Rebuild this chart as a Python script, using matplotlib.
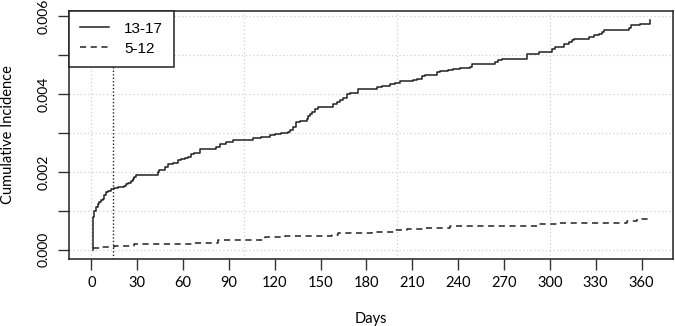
import matplotlib
matplotlib.use("Agg")
import matplotlib.pyplot as plt
from matplotlib.lines import Line2D

# ---- data (step points: day, cumulative incidence) ----
days_13_17 = [0.85, 1.5, 2.0, 3.1, 4.1, 5.2, 6.4, 7.4, 8.5, 9.6, 10.7, 12.9, 15.1,
              17.2, 21.6, 22.8, 23.8, 26.0, 27.1, 28.2, 29.3, 43.5, 44.6, 46.8,
              47.9, 50.0, 53.3, 56.6, 58.8, 61.0, 63.1, 65.4, 67.5, 70.8, 81.8,
              83.9, 86.1, 88.3, 90.5, 92.7, 105.8, 111.3, 113.4, 116.7, 120.0,
              124.4, 128.7, 129.8, 132.0, 134.2, 136.4, 138.6, 140.8, 141.8,
              142.9, 144.1, 146.2, 148.4, 158.2, 160.5, 162.6, 164.8, 167.0,
              169.2, 174.6, 186.7, 190.0, 192.1, 195.4, 198.7, 202.0, 210.7,
              212.9, 216.2, 218.4, 226.0, 228.2, 233.6, 236.9, 241.3, 247.9,
              249.0, 264.3, 266.4, 268.6, 285.0, 292.7, 301.4, 303.6, 309.0,
              312.3, 314.5, 315.6, 325.4, 328.7, 332.0, 334.2, 335.3, 348.4,
              351.7, 352.8, 359.3, 365.4]
inc_13_17 = [0.00084, 0.00088, 0.00101, 0.00110, 0.00118, 0.00122, 0.00127,
             0.00131, 0.00140, 0.00148, 0.00152, 0.00155, 0.00158, 0.00161,
             0.00165, 0.00170, 0.00172, 0.00178, 0.00183, 0.00188, 0.00191,
             0.00199, 0.00204, 0.00206, 0.00212, 0.00221, 0.00224, 0.00230,
             0.00234, 0.00236, 0.00238, 0.00247, 0.00249, 0.00259, 0.00264,
             0.00271, 0.00272, 0.00277, 0.00278, 0.00283, 0.00288, 0.00289,
             0.00291, 0.00296, 0.00298, 0.00301, 0.00302, 0.00307, 0.00315,
             0.00328, 0.00331, 0.00332, 0.00337, 0.00343, 0.00348, 0.00354,
             0.00362, 0.00367, 0.00374, 0.00379, 0.00386, 0.00391, 0.00401,
             0.00404, 0.00412, 0.00418, 0.00421, 0.00422, 0.00427, 0.00429,
             0.00435, 0.00437, 0.00440, 0.00446, 0.00450, 0.00457, 0.00459,
             0.00463, 0.00465, 0.00468, 0.00471, 0.00478, 0.00482, 0.00487,
             0.00491, 0.00504, 0.00508, 0.00517, 0.00521, 0.00530, 0.00534,
             0.00538, 0.00542, 0.00548, 0.00551, 0.00555, 0.00559, 0.00564,
             0.00566, 0.00571, 0.00577, 0.00581, 0.00590]

days_5_12 = [0.85, 6.4, 15.1, 28.2, 67.5, 82.8, 100.3, 113.4, 126.6, 157.2,
             161.5, 183.4, 198.7, 206.4, 217.2, 234.8, 291.6, 304.7, 350.6,
             357.1, 365.9]
inc_5_12 = [0.00004, 0.00007, 0.00010, 0.00014, 0.00017, 0.00024, 0.00026,
            0.00032, 0.00036, 0.00039, 0.00043, 0.00047, 0.00050, 0.00054,
            0.00057, 0.00061, 0.00067, 0.00069, 0.00073, 0.00078, 0.00078]

cutoff_day = 14
x_ticks = list(range(0, 361, 30))
y_ticks = [0.000, 0.001, 0.002, 0.003, 0.004, 0.005, 0.006]
y_labels = ["0.000", "", "0.002", "", "0.004", "", "0.006"]
group_labels = ["13-17", "5-12"]

INK = "#222222"
GRID = "#d0d0d0"

fig = plt.figure(figsize=(6.75, 3.26), dpi=100)
ax = fig.add_axes([69 / 675, 1 - 259 / 326, 604 / 675, 248 / 326])

# grid (R style, light dotted)
for gx in [0, 100, 200, 300]:
    ax.axvline(gx, color=GRID, lw=0.9, ls=(0, (1, 2)), zorder=0)
for gy in y_ticks:
    ax.axhline(gy, color=GRID, lw=0.9, ls=(0, (1, 2)), zorder=0)

# curves start from zero at day of first event
ax.step([0.85] + days_13_17, [0.0] + inc_13_17, where="post", color=INK,
        lw=1.1, zorder=3)
ax.step(days_5_12, inc_5_12, where="post", color=INK, lw=1.1,
        dashes=(4, 3), zorder=3)
ax.axvline(cutoff_day, color=INK, lw=1.0, ls=(0, (1, 1.5)), zorder=2)

ax.set_xlim(-14.6, 380.6)
ax.set_ylim(-0.000236, 0.006136)

ax.set_xticks(x_ticks)
ax.set_xticklabels([str(t) for t in x_ticks], fontfamily="Lato", fontsize=10.5)
ax.set_yticks(y_ticks)
ax.set_yticklabels(y_labels, fontfamily="Lato", fontsize=10,
                   rotation=90, va="center")
ax.tick_params(direction="out", length=8, width=1, color="#333333", pad=4)
ax.tick_params(axis="y", pad=6)

for s in ax.spines.values():
    s.set_linewidth(1.1)
    s.set_color(INK)

ax.set_xlabel("Days", fontfamily="Lato", fontsize=10.5, labelpad=16)
ax.set_ylabel("Cumulative Incidence", fontfamily="Lato", fontsize=10.5)
ax.yaxis.set_label_coords(-0.09, 0.5)

handles = [Line2D([], [], color=INK, lw=1.1),
           Line2D([], [], color=INK, lw=1.1, dashes=(4, 3))]
leg = ax.legend(handles, group_labels, loc="upper left", bbox_to_anchor=(0, 1),
                frameon=True, fancybox=False, borderaxespad=0,
                prop={"family": "Liberation Sans", "size": 11},
                handlelength=1.9, handletextpad=1.0, borderpad=0.7,
                labelspacing=0.4)
leg.get_frame().set_edgecolor(INK)
leg.get_frame().set_linewidth(1.1)
leg.get_frame().set_alpha(1)
leg.set_zorder(5)

fig.savefig("out.png", dpi=100)
